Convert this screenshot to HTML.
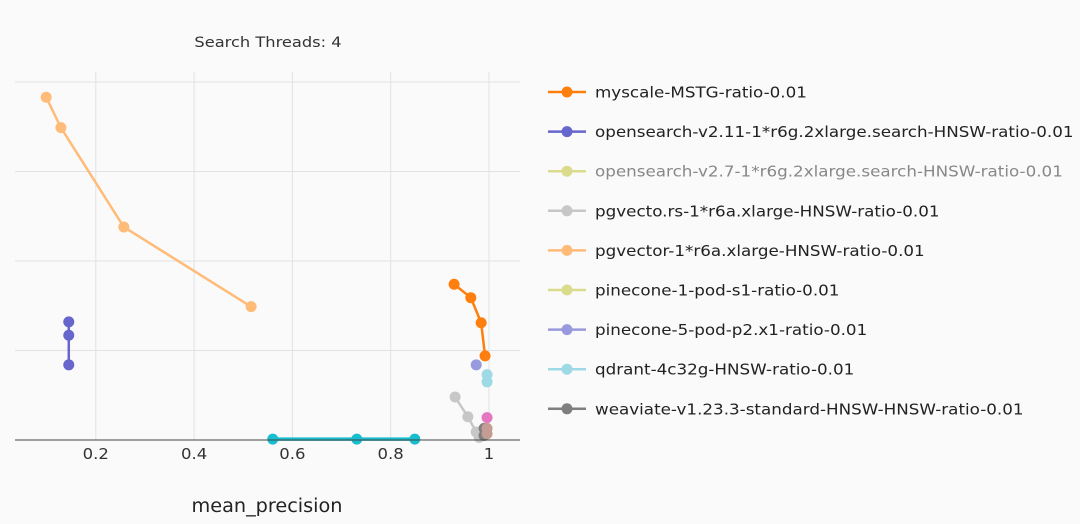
<!DOCTYPE html>
<html><head><meta charset="utf-8">
<style>
html,body{margin:0;padding:0;background:#fafafa;}
svg{display:block;font-family:"DejaVu Sans","Liberation Sans",sans-serif;}
</style></head>
<body>
<svg id="chart" width="1080" height="524">
<rect width="1080" height="524" fill="#fafafa"/>
<text id="title" x="268" y="47" text-anchor="middle" font-size="14.5" fill="#333">Search Threads: 4</text>
<g id="grid"></g>
<g id="series"></g>
<line x1="15" x2="520" y1="440" y2="440" stroke="#444" stroke-width="1"/>
<g id="xticks"></g>
<text id="xtitle" x="267" y="512" text-anchor="middle" font-size="18.5" fill="#222">mean_precision</text>
<g id="legend"></g>
</svg>
<script>
const xTicks=[0.2,0.4,0.6,0.8,1];
const xTickLabels=["0.2","0.4","0.6","0.8","1"];
const yGrid=[1,2,3,4];
const seriesNames=["myscale-MSTG-ratio-0.01","opensearch-v2.11-1*r6g.2xlarge.search-HNSW-ratio-0.01","opensearch-v2.7-1*r6g.2xlarge.search-HNSW-ratio-0.01","pgvecto.rs-1*r6a.xlarge-HNSW-ratio-0.01","pgvector-1*r6a.xlarge-HNSW-ratio-0.01","pinecone-1-pod-s1-ratio-0.01","pinecone-5-pod-p2.x1-ratio-0.01","qdrant-4c32g-HNSW-ratio-0.01","weaviate-v1.23.3-standard-HNSW-HNSW-ratio-0.01","extra-cyan","extra-pink","extra-brown"];
const seriesColors=["#ff7f0e","#6666cc","#dbdb8d","#c7c7c7","#ffbb78","#dbdb8d","#9999dd","#9edae5","#7f7f7f","#17becf","#e377c2","#c49c94"];
const mStgX=[0.929,0.963,0.984,0.992]; const mStgY=[1.74,1.59,1.31,0.94];
const os211X=[0.145,0.145,0.145]; const os211Y=[1.32,1.17,0.84];
const os27X=[]; const os27Y=[];
const pgrsX=[0.931,0.957,0.974,0.98]; const pgrsY=[0.48,0.26,0.09,0.03];
const pgvX=[0.099,0.129,0.257,0.516]; const pgvY=[3.83,3.49,2.38,1.49];
const pc1X=[]; const pc1Y=[];
const pc5X=[0.974]; const pc5Y=[0.84];
const qdX=[0.996,0.996]; const qdY=[0.73,0.65];
const wvX=[0.99,0.99]; const wvY=[0.13,0.05];
const cyX=[0.56,0.731,0.849]; const cyY=[0.01,0.01,0.01];
const pkX=[0.996]; const pkY=[0.25];
const brX=[0.996,0.996]; const brY=[0.13,0.07];
const seriesX=[mStgX,os211X,os27X,pgrsX,pgvX,pc1X,pc5X,qdX,wvX,cyX,pkX,brX];
const seriesY=[mStgY,os211Y,os27Y,pgrsY,pgvY,pc1Y,pc5Y,qdY,wvY,cyY,pkY,brY];
const NS="http://www.w3.org/2000/svg";
function sx(v){return -2.5+491.5*v;}
function sy(v){return 440-89.5*v;}
function mk(t,a){const e=document.createElementNS(NS,t);for(const k in a)e.setAttribute(k,a[k]);return e;}
function widen(t,f){const w=t.getComputedTextLength();t.setAttribute('textLength',w*f);t.setAttribute('lengthAdjust','spacingAndGlyphs');}
const grid=document.getElementById('grid');
xTicks.forEach((t,i)=>{
  const l=mk('line',{x1:sx(t),x2:sx(t),y1:72,y2:440,stroke:'#e2e2e2','stroke-width':1});
  
  
  grid.appendChild(l);
  const tx=mk('text',{x:sx(t),y:459,'text-anchor':'middle','font-size':15,fill:'#333'});
  tx.textContent=xTickLabels[i];
  
  
  document.getElementById('xticks').appendChild(tx);
  widen(tx,1.1);
});
yGrid.forEach(t=>{
  const l=mk('line',{x1:15,x2:520,y1:sy(t),y2:sy(t),stroke:'#e2e2e2','stroke-width':1});
  
  
  grid.appendChild(l);
});
const sg=document.getElementById('series');
const order=[4,1,9,3,8,6,7,10,11,0];
order.forEach(i=>{
  const xs=seriesX[i],ys=seriesY[i];
  const g=mk('g',{});
  
  
  if(xs.length>1){
    const p=mk('polyline',{points:xs.map((x,k)=>sx(x)+','+sy(ys[k])).join(' '),fill:'none',stroke:seriesColors[i],'stroke-width':i==9?3.5:2.5});
    g.appendChild(p);
  }
  xs.forEach((x,k)=>{
    const c=mk('circle',{cx:sx(x),cy:sy(ys[k]),r:5.5,fill:seriesColors[i]});
    
    
    g.appendChild(c);
  });
  sg.appendChild(g);
});
const lg=document.getElementById('legend');
for(let i=0;i<9;i++){
  const y=92+i*39.6;
  const g=mk('g',{});
  
  
  g.appendChild(mk('line',{x1:548,x2:586,y1:y,y2:y,stroke:seriesColors[i],'stroke-width':2.5}));
  g.appendChild(mk('circle',{cx:567,cy:y,r:5.5,fill:seriesColors[i]}));
  const t=mk('text',{x:595,y:y+5.5,'font-size':15.5,fill:i==2?'#888':'#222'});
  t.textContent=seriesNames[i];
  g.appendChild(t);
  lg.appendChild(g);
  widen(t,1.08);
}
widen(document.getElementById('title'),1.12);
widen(document.getElementById('xtitle'),1.04);
</script>
</body></html>
